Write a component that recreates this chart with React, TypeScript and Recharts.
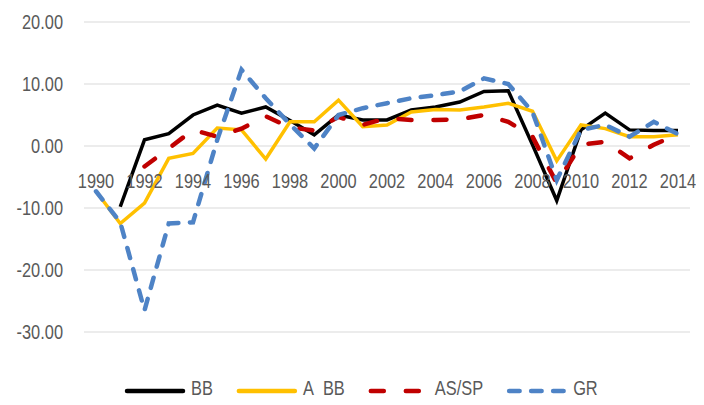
import React from "react";
import { LineChart, Line, XAxis, YAxis, CartesianGrid } from "recharts";

const years = [
  "1990", "1991", "1992", "1993", "1994", "1995", "1996", "1997", "1998", "1999",
  "2000", "2001", "2002", "2003", "2004", "2005", "2006", "2007", "2008", "2009",
  "2010", "2011", "2012", "2013", "2014",
];
const bb = [null, -9.8, 1.0, 2.0, 5.0, 6.6, 5.3, 6.3, 4.1, 1.8, 5.0, 4.2, 4.2, 5.8, 6.3, 7.1, 8.8, 8.9, 0.2, -8.8, 2.6, 5.3, 2.6, 2.5, 2.5];
const aBb = [-7.3, -12.5, -9.2, -2.0, -1.2, 2.9, 2.6, -2.1, 3.9, 3.9, 7.4, 3.1, 3.4, 5.5, 5.9, 5.8, 6.3, 6.9, 5.6, -2.4, 3.4, 2.8, 1.5, 1.5, 1.8];
const asSp = [null, null, -3.3, -0.4, 2.6, 1.5, 2.8, 4.8, 3.0, 2.5, 4.7, 3.4, 4.5, 4.2, 4.2, 4.3, 5.0, 3.9, 1.5, -6.0, 0.2, 0.7, -2.0, 0.2, 1.9];
const gr = [-7.3, -12.3, -26.5, -12.5, -12.3, 1.0, 12.3, 7.7, 3.5, -0.4, 5.0, 6.1, 6.9, 7.7, 8.2, 8.8, 10.9, 10.0, 5.5, -5.5, 2.6, 3.4, 1.5, 3.9, 1.9];
const yTicks = [-30, -20, -10, 0, 10, 20];

const series = [
  { key: "bb", name: "BB", color: "#000000", dash: undefined as string | undefined, width: 3.5 },
  { key: "aBb", name: "A_BB", color: "#FFC000", dash: undefined as string | undefined, width: 3.5 },
  { key: "asSp", name: "AS/SP", color: "#C00000", dash: "13 22", width: 4.5 },
  { key: "gr", name: "GR", color: "#4E83C6", dash: "10.5 11.5", width: 4.5 },
];

const data = years.map((y, i) => ({
  year: y,
  bb: bb[i],
  aBb: aBb[i],
  asSp: asSp[i],
  gr: gr[i],
}));

const W = 704;
const H = 405;
const TOP = 22;
const BOTTOM = 73;
const PLOT_H = H - TOP - BOTTOM;
const Y_MIN = -30;
const Y_MAX = 20;
const FONT = "'Liberation Sans', Arial, sans-serif";
const FS = 20;
const SX = 0.82;
const TEXT = "#595959";

const zeroY = TOP + (PLOT_H * (Y_MAX - 0)) / (Y_MAX - Y_MIN);

const NarrowText = ({ x, y, anchor, children }: any) => (
  <g transform={`translate(${x},${y}) scale(${SX},1)`}>
    <text
      x={0}
      y={0}
      textAnchor={anchor}
      dominantBaseline="central"
      fill={TEXT}
      fontSize={FS}
      fontFamily={FONT}
    >
      {children}
    </text>
  </g>
);

const XTick = (props: any) => {
  const { x, payload } = props;
  return (
    <NarrowText x={x} y={zeroY + 35} anchor="middle">
      {payload.value}
    </NarrowText>
  );
};

const YTick = (props: any) => {
  const { x, y, payload } = props;
  return (
    <NarrowText x={x} y={y} anchor="end">
      {Number(payload.value).toFixed(2)}
    </NarrowText>
  );
};

let measureCtx: CanvasRenderingContext2D | null = null;
const measure = (s: string) => {
  if (!measureCtx) {
    measureCtx = document.createElement("canvas").getContext("2d");
  }
  if (!measureCtx) return s.length * 11;
  measureCtx.font = `${FS}px 'Liberation Sans'`;
  return measureCtx.measureText(s).width * SX;
};

const LEG_LINE = 60;
const LEG_TEXT_GAP = 6;
const LEG_ITEM_GAP = 24;
const LEG_LEFT = 125;
const LEG_Y = 390;

const LegendRow = () => {
  let cursor = LEG_LEFT;
  const items = series.map((s) => {
    const x0 = cursor;
    const tw = measure(s.name);
    cursor += LEG_LINE + LEG_TEXT_GAP + tw + LEG_ITEM_GAP;
    return (
      <g key={s.key}>
        <line
          x1={x0 + 2}
          y1={LEG_Y + 1}
          x2={x0 + LEG_LINE - 2}
          y2={LEG_Y + 1}
          stroke={s.color}
          strokeWidth={4.5}
          strokeDasharray={s.dash}
          strokeLinecap="round"
        />
        <NarrowText x={x0 + LEG_LINE + LEG_TEXT_GAP} y={LEG_Y - 2} anchor="start">
          {s.name}
        </NarrowText>
      </g>
    );
  });
  return (
    <svg width={W} height={H} style={{ position: "absolute", left: 0, top: 0, pointerEvents: "none", overflow: "visible" }}>
      {items}
    </svg>
  );
};

export default function App() {
  return (
    <div style={{ position: "relative", width: W, height: H, margin: -8, background: "#fff" }}>
      <LineChart
        width={W}
        height={H}
        data={data}
        margin={{ top: TOP, right: 14, bottom: BOTTOM - 30, left: 0 }}
      >
        <CartesianGrid vertical={false} stroke="#D9D9D9" strokeWidth={1} />
        <XAxis
          dataKey="year"
          height={30}
          axisLine={false}
          tickLine={false}
          interval={1}
          padding={{ left: 12, right: 12 }}
          tick={<XTick />}
        />
        <YAxis
          width={84}
          domain={[Y_MIN, Y_MAX]}
          ticks={yTicks}
          axisLine={false}
          tickLine={false}
          tickSize={6}
          tickMargin={15}
          tick={<YTick />}
        />
        {series.map((s) => (
          <Line
            key={s.key}
            dataKey={s.key}
            name={s.name}
            type="linear"
            stroke={s.color}
            strokeWidth={s.width}
            strokeDasharray={s.dash}
            strokeLinecap={s.dash ? "round" : "butt"}
            dot={false}
            activeDot={false}
            isAnimationActive={false}
            connectNulls={false}
          />
        ))}
      </LineChart>
      <LegendRow />
    </div>
  );
}
